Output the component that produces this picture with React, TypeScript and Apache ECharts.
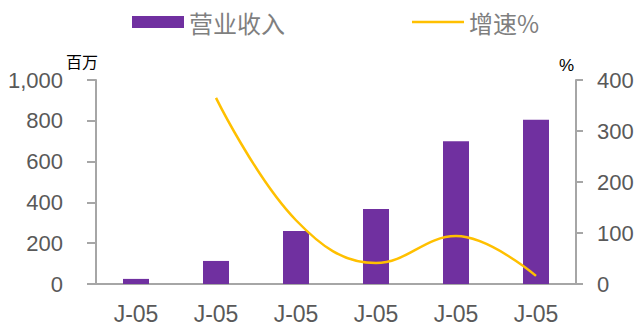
import React, { useEffect, useRef } from "react";
import * as echarts from "echarts";

const categories = ["J-05", "J-05", "J-05", "J-05", "J-05", "J-05"];
const revenue = [25, 113, 260, 368, 700, 805];
const growth: (number | null)[] = [null, 365, 125, 41, 94, 16];
const leftTicks = { min: 0, max: 1000, interval: 200 };
const rightTicks = { min: 0, max: 400, interval: 100 };

const lineIcon = "path://M0,0h0.01v0.01h-0.01zM0,4.8h52v2.4h-52zM0,11.99h0.01v0.01h-0.01z";

const App: React.FC = () => {
  const ref = useRef<HTMLDivElement>(null);
  useEffect(() => {
    if (!ref.current) return;
    const chart = echarts.init(ref.current, null, { renderer: "svg" });
    const font = "'Liberation Sans', Arial, sans-serif";
    const cjk = "'Noto Sans CJK SC', sans-serif";
    chart.setOption({
      animation: false,
      backgroundColor: "#ffffff",
      legend: {
        left: 127,
        top: 5,
        itemWidth: 52,
        itemHeight: 12,
        itemGap: 127,
        textStyle: { fontFamily: cjk, fontSize: 24, color: "#7f7f7f" },
        data: [
          { name: "营业收入", icon: "rect" },
          { name: "增速%", icon: lineIcon },
        ],
      },
      grid: { left: 96, right: 62, top: 80, bottom: 45 },
      xAxis: {
        type: "category",
        data: categories,
        axisLine: { lineStyle: { color: "#a6a6a6", width: 2 } },
        axisTick: { show: false },
        axisLabel: { fontFamily: font, fontSize: 23, color: "#595959", margin: 18 },
      },
      yAxis: [
        {
          type: "value",
          ...leftTicks,
          name: "百万",
          nameLocation: "end",
          nameGap: 6,
          nameTextStyle: { fontFamily: cjk, fontSize: 16, color: "#000000", align: "right", padding: [0, -2, 0, 0] },
          axisLine: { show: true, lineStyle: { color: "#a6a6a6", width: 2 } },
          axisTick: { show: true, length: 9, lineStyle: { color: "#a6a6a6", width: 2 } },
          splitLine: { show: false },
          axisLabel: {
            fontFamily: font,
            fontSize: 22,
            color: "#595959",
            margin: 33,
            formatter: (v: number) => v.toLocaleString("en-US"),
          },
        },
        {
          type: "value",
          ...rightTicks,
          position: "right",
          name: "%",
          nameLocation: "end",
          nameGap: 6,
          nameTextStyle: { fontFamily: font, fontSize: 17, color: "#000000", align: "right", padding: [0, 2, 0, 0] },
          axisLine: { show: true, lineStyle: { color: "#a6a6a6", width: 2 } },
          axisTick: { show: true, length: 7, lineStyle: { color: "#a6a6a6", width: 2 } },
          splitLine: { show: false },
          axisLabel: { fontFamily: font, fontSize: 22, color: "#595959", margin: 21 },
        },
      ],
      series: [
        {
          name: "营业收入",
          type: "bar",
          data: revenue,
          barWidth: 26,
          itemStyle: { color: "#7030a0" },
        },
        {
          name: "增速%",
          type: "line",
          yAxisIndex: 1,
          data: growth,
          smooth: 0.4,
          symbol: "none",
          connectNulls: false,
          lineStyle: { color: "#ffc000", width: 2.5 },
          itemStyle: { color: "#ffc000" },
        },
      ],
    });
    return () => chart.dispose();
  }, []);
  return <div ref={ref} style={{ width: 638, height: 329, position: "absolute", left: 0, top: 0 }} />;
};

export default App;
